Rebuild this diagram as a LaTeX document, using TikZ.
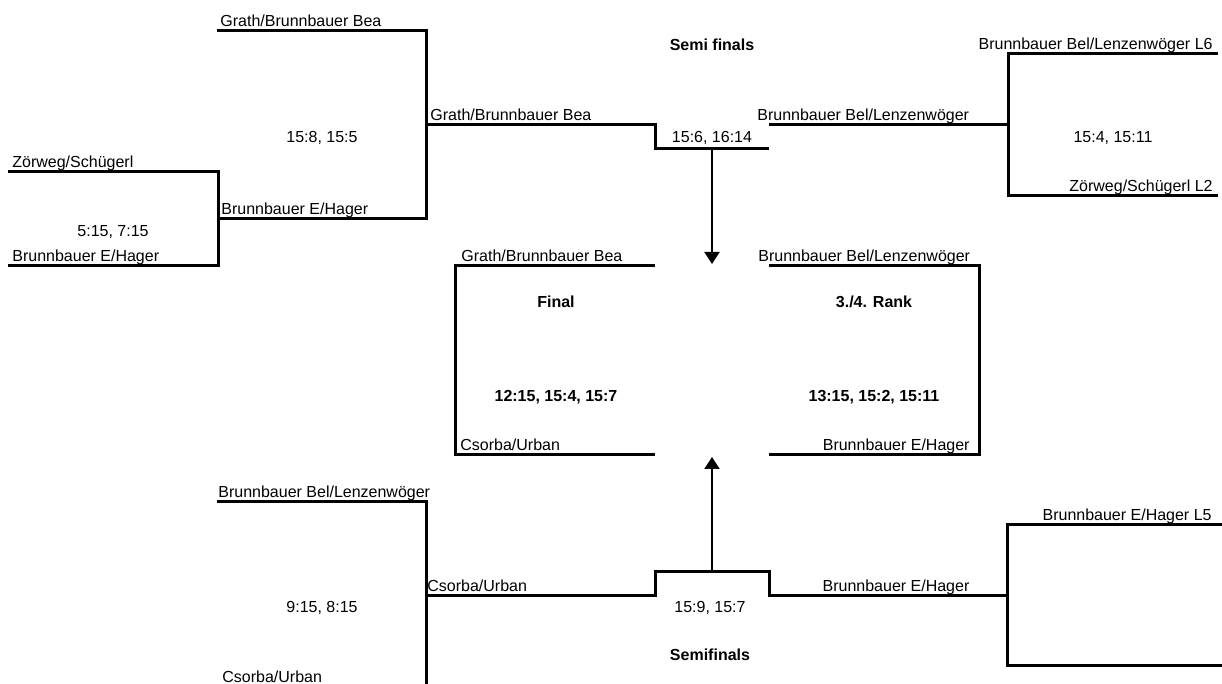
\documentclass[tikz,border=0pt]{standalone}
\usepackage{fontspec}
\setmainfont{Liberation Sans}
\usetikzlibrary{arrows.meta,positioning}

\begin{document}
\begin{tikzpicture}[x=0.5pt,y=-0.5pt,
    bar/.style={line width=1.5pt},
    team/.style={inner sep=0pt,font=\fontsize{8}{9.6}\selectfont},
    stage/.style={inner sep=0pt,font=\fontsize{8}{9.6}\selectfont\bfseries},
    win/.style={line width=1pt,-{Triangle[length=6pt,width=7.5pt]}}]
\useasboundingbox (0,0) rectangle (1222,684);

% corners of the brackets
\coordinate (q1) at (8,172);   \coordinate (q2) at (8,266);   \coordinate (q3) at (218,219);
\coordinate (s1a) at (217,31); \coordinate (s1) at (426,125);
\coordinate (sf1) at (655,149); \coordinate (sf2) at (769,149); \coordinate (sf3) at (769,125);
\coordinate (s2) at (1008,125); \coordinate (r1) at (1218,54); \coordinate (r2) at (1218,196);
\coordinate (m1) at (712,149); \coordinate (a1) at (712,264);
\coordinate (fa) at (655,266); \coordinate (fb) at (455,455); \coordinate (fc) at (655,455);
\coordinate (ra) at (769,266); \coordinate (rb) at (979,455); \coordinate (rc) at (769,455);
\coordinate (b1) at (217,501); \coordinate (s3) at (426,595); \coordinate (b2) at (426,684);
\coordinate (sf4) at (655,571); \coordinate (sf5) at (769,571); \coordinate (s4) at (1007,595);
\coordinate (r3) at (1222,524); \coordinate (r4) at (1222,665);
\coordinate (m2) at (712,571); \coordinate (a2) at (712,457);

\draw[bar] (q1) -| (q3) |- (q2);
\draw[bar] (s1a) -| (s1) |- (q3);
\draw[bar] (s1) -| (sf1) -- (sf2);
\draw[bar] (sf3) -- (s2);
\draw[bar] (r1) -| (s2) |- (r2);
\draw[win] (m1) -- (a1);
\draw[bar] (fa) -| (fb) -- (fc);
\draw[bar] (ra) -| (rb) -- (rc);
\draw[bar] (b1) -| (s3) -- (b2);
\draw[bar] (s3) -| (sf4) -- (sf5) |- (s4);
\draw[bar] (r3) -| (s4) |- (r4);
\draw[win] (m2) -- (a2);

% teams
\node[team,anchor=base west] (t1) at (12,168) {Zörweg/Schügerl};
\node[team,anchor=base west] (t2) at (12,262) {Brunnbauer E/Hager};
\node[team,anchor=base west] (t3) at (221,215) {Brunnbauer E/Hager};
\node[team,anchor=base west] (t4) at (220,27) {Grath/Brunnbauer Bea};
\node[team,anchor=base west] (t5) at (430,121) {Grath/Brunnbauer Bea};
\node[team,anchor=base west] (t6) at (757,121) {Brunnbauer Bel/Lenzenwöger};
\node[team,anchor=base east] (t7) at (1213,50) {Brunnbauer Bel/Lenzenwöger L6};
\node[team,anchor=base east] (t8) at (1213,192) {Zörweg/Schügerl L2};
\node[team,anchor=base west] (t9) at (461,262) {Grath/Brunnbauer Bea};
\node[team,anchor=base west] (t10) at (460,451) {Csorba/Urban};
\node[team,anchor=base west] (t11) at (758,262) {Brunnbauer Bel/Lenzenwöger};
\node[team,anchor=base east] (t12) at (970,451) {Brunnbauer E/Hager};
\node[team,anchor=base west] (t13) at (218,497) {Brunnbauer Bel/Lenzenwöger};
\node[team,anchor=base west] (t14) at (427,591) {Csorba/Urban};
\node[team,anchor=base west] (t15) at (222,682) {Csorba/Urban};
\node[team,anchor=base] (t16) at (896,591) {Brunnbauer E/Hager};
\node[team,anchor=base east] (t17) at (1212,520) {Brunnbauer E/Hager L5};

% scores and stages
\node[team] (p1) at (113,232) {5:15, 7:15};
\node[team] (p2) at (322,138) {15:8, 15:5};
\node[team] (p3) at (712,138) {15:6, 16:14};
\node[team] (p4) at (1113,138) {15:4, 15:11};
\node[team] (p5) at (322,608) {9:15, 8:15};
\node[team] (p6) at (710,608) {15:9, 15:7};
\node[stage] (h1) at (712,45) {Semi finals};
\node[stage] (h2) at (556,302) {Final};
\node[stage] (p7) at (556,397) {12:15, 15:4, 15:7};
\node[stage] (h3) at (874,302) {3./4. Rank};
\node[stage] (p8) at (874,397) {13:15, 15:2, 15:11};
\node[stage] (h4) at (710,655) {Semifinals};
\end{tikzpicture}
\end{document}
